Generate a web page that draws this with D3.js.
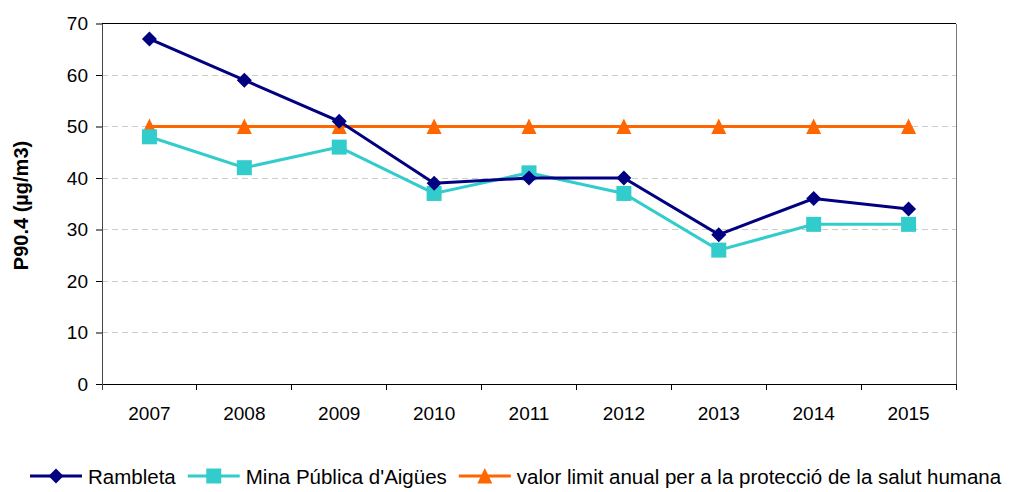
<!DOCTYPE html>
<html>
<head>
<meta charset="utf-8">
<script src="https://cdn.jsdelivr.net/npm/d3@7"></script>
<style>
  body { margin: 0; background: #fff; }
  text { font-family: "Liberation Sans", Arial, sans-serif; fill: #000; }
</style>
</head>
<body>
<div id="chart"></div>
<script>
const years = ["2007", "2008", "2009", "2010", "2011", "2012", "2013", "2014", "2015"];
const rambleta = [67, 59, 51, 39, 40, 40, 29, 36, 34];
const minaPublica = [48, 42, 46, 37, 41, 37, 26, 31, 31];
const valorLimit = [50, 50, 50, 50, 50, 50, 50, 50, 50];
const yTicks = [0, 10, 20, 30, 40, 50, 60, 70];
const seriesNames = ["Rambleta", "Mina Pública d'Aigües", "valor limit anual per a la protecció de la salut humana"];

const width = 1011, height = 492;
const margin = { top: 23.5, right: 55, bottom: 108, left: 102 };
const w = width - margin.left - margin.right;
const h = height - margin.top - margin.bottom;

const svg = d3.select("#chart").append("svg")
    .attr("width", width)
    .attr("height", height);

const g = svg.append("g")
    .attr("transform", "translate(" + margin.left + "," + margin.top + ")");

const scaleX = d3.scaleBand().domain(years).range([0, w]);
const scaleY = d3.scaleLinear().domain([0, 70]).range([h, 0]);

// gridlines
g.append("g")
    .selectAll("line")
    .data(yTicks.filter(d => d > 0 && d < 70))
    .join("line")
    .attr("x1", 0).attr("x2", w)
    .attr("y1", d => scaleY(d)).attr("y2", d => scaleY(d))
    .attr("stroke", "#cccccc")
    .attr("stroke-width", 1)
    .attr("stroke-dasharray", "6,4")
    .attr("shape-rendering", "crispEdges");

// plot border (top + right)
g.append("line").attr("x1", 0).attr("x2", w).attr("y1", 0).attr("y2", 0)
    .attr("stroke", "#000").attr("shape-rendering", "crispEdges");
g.append("line").attr("x1", w).attr("x2", w).attr("y1", 0).attr("y2", h)
    .attr("stroke", "#777").attr("shape-rendering", "crispEdges");

// Y axis
const yAxis = g.append("g")
    .call(d3.axisLeft(scaleY).tickValues(yTicks).tickSize(6).tickPadding(8).tickSizeOuter(0));
yAxis.select(".domain").attr("stroke", "#444");
yAxis.selectAll("text").attr("font-size", "19px").attr("font-family", "Liberation Sans, Arial, sans-serif");

// X axis: ticks on category boundaries
const xAxis = g.append("g")
    .attr("transform", "translate(0," + h + ")");
xAxis.append("line").attr("x1", 0).attr("x2", w).attr("y1", 0).attr("y2", 0)
    .attr("stroke", "#000").attr("shape-rendering", "crispEdges");
xAxis.selectAll(".tk")
    .data(d3.range(years.length + 1))
    .join("line")
    .attr("class", "tk")
    .attr("x1", i => i * scaleX.step()).attr("x2", i => i * scaleX.step())
    .attr("y1", 0).attr("y2", 6)
    .attr("stroke", i => i === 0 ? "#444" : "#000")
    .attr("shape-rendering", "crispEdges");
xAxis.selectAll(".lbl")
    .data(years)
    .join("text")
    .attr("class", "lbl")
    .attr("x", d => scaleX(d) + scaleX.bandwidth() / 2)
    .attr("y", 36)
    .attr("text-anchor", "middle")
    .attr("font-size", "19px")
    .text(d => d);

// Y axis title
svg.append("text")
    .attr("transform", "translate(28,205.5) rotate(-90)")
    .attr("text-anchor", "middle")
    .attr("font-size", "20px")
    .attr("font-weight", "bold")
    .text("P90.4 (µg/m3)");

const colors = ["#000080", "#33CCCC", "#FF6600"];
const diamond = "M0,-7.5L7.5,0L0,7.5L-7.5,0Z";
const square = "M-7.5,-7.5H7.5V7.5H-7.5Z";
const triangle = "M0,-8L7.5,7.5H-7.5Z";
const symbols = [diamond, square, triangle];
const allSeries = [rambleta, minaPublica, valorLimit];

const lineFunc = d3.line()
    .x((d, i) => scaleX(years[i]) + scaleX.bandwidth() / 2)
    .y(d => scaleY(d));

// draw limit first, then Mina, then Rambleta on top
[2, 1, 0].forEach(s => {
    g.append("path")
        .attr("d", lineFunc(allSeries[s]))
        .attr("fill", "none")
        .attr("stroke", colors[s])
        .attr("stroke-width", 3);
    g.append("g").selectAll("path")
        .data(allSeries[s])
        .join("path")
        .attr("transform", (d, i) => "translate(" + (scaleX(years[i]) + scaleX.bandwidth() / 2) + "," + scaleY(d) + ")")
        .attr("d", symbols[s])
        .attr("fill", colors[s]);
});

// Legend
const legend = svg.append("g").attr("transform", "translate(30,476)");
let lx = 0;
seriesNames.forEach((name, s) => {
    const item = legend.append("g").attr("transform", "translate(" + lx + ",0)");
    item.append("line").attr("x1", 0).attr("x2", 52).attr("y1", 0).attr("y2", 0)
        .attr("stroke", colors[s]).attr("stroke-width", 3);
    item.append("path")
        .attr("transform", "translate(26,0)")
        .attr("d", symbols[s])
        .attr("fill", colors[s]);
    const t = item.append("text")
        .attr("x", 58)
        .attr("y", 7.5)
        .attr("font-size", "20.5px")
        .text(name);
    lx += 58 + t.node().getComputedTextLength() + 12;
});
</script>
</body>
</html>
